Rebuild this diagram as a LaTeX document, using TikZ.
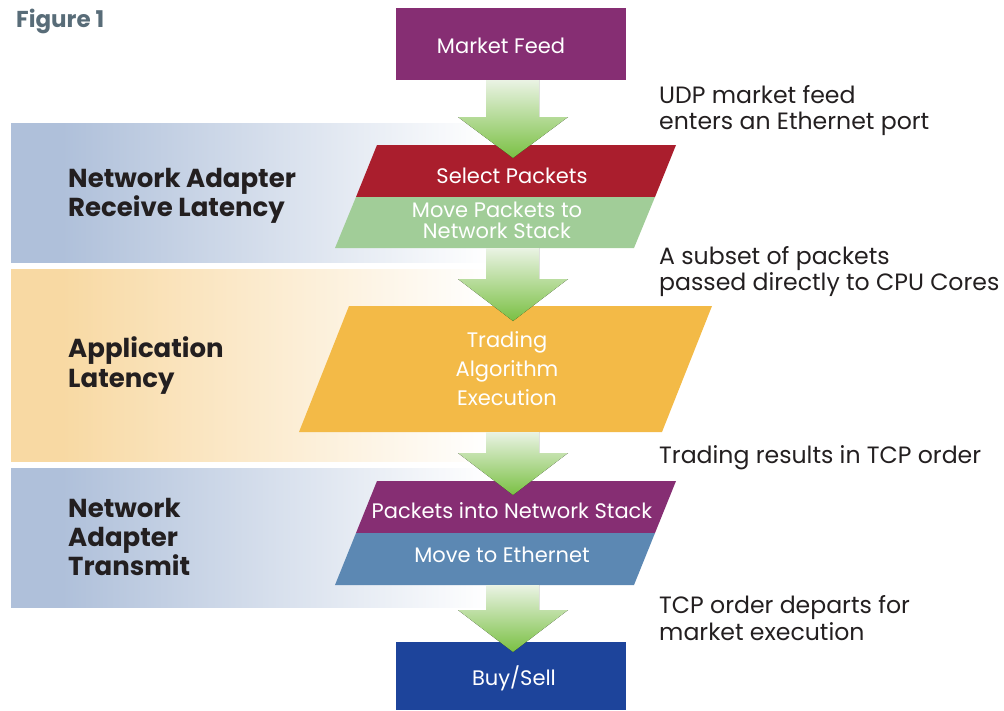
\documentclass[tikz,border=0pt]{standalone}
\usepackage{fontspec}
\setmainfont{Poppins}
\definecolor{feedpurple}{HTML}{862E73}
\definecolor{selred}{HTML}{AA1E2D}
\definecolor{movegreen}{HTML}{A1CD98}
\definecolor{algoorange}{HTML}{F3BA47}
\definecolor{ethblue}{HTML}{5C88B3}
\definecolor{buynavy}{HTML}{1D449B}
\definecolor{bandblue}{HTML}{AFC0DA}
\definecolor{bandorange}{HTML}{F8D9A3}
\definecolor{figgray}{HTML}{586C78}
\definecolor{txtdark}{HTML}{231F20}
\definecolor{arrtop}{HTML}{EAF3E4}
\definecolor{arrbot}{HTML}{7AC043}
\pgfdeclarehorizontalshading{bandblueshade}{100bp}{color(0bp)=(bandblue); color(30bp)=(bandblue); color(72bp)=(white); color(100bp)=(white)}
\pgfdeclarehorizontalshading{bandorangeshade}{100bp}{color(0bp)=(bandorange); color(30bp)=(bandorange); color(72bp)=(white); color(100bp)=(white)}
\newcommand\greenarrow[3]{%
  \fill[top color=arrtop, bottom color=arrbot] (486,#1) -- (539,#1) -- (539,#2) -- (568,#2) -- (513,#3) -- (458,#2) -- (486,#2) -- cycle;}
\begin{document}
\begin{tikzpicture}[x=1pt,y=-1pt,
  note/.style={anchor=base west, inner sep=0pt, text=txtdark, font=\fontsize{23.6}{26}\selectfont},
  stage/.style={anchor=base west, inner sep=0pt, text=txtdark, font=\fontsize{26}{29}\selectfont\bfseries},
  boxtxt/.style={anchor=base, inner sep=0pt, text=white, font=\fontsize{21}{24}\selectfont},
  boxfill/.style={draw=none, inner sep=0pt}]
\useasboundingbox (0,0) rectangle (1004,710);
% bands
\shade[shading=bandblueshade] (11,123) rectangle (520,262);
\shade[shading=bandorangeshade] (11,269) rectangle (520,461);
\shade[shading=bandblueshade] (11,468) rectangle (520,607);
% boxes
\node[boxfill, fill=feedpurple, minimum width=230pt, minimum height=72pt] (feed) at (511,44) {};
\node[boxfill, fill=buynavy, minimum width=230pt, minimum height=68pt] (buy) at (511,676) {};
\fill[selred] (377,145) -- (676,145) -- (655,197) -- (356,197) -- cycle;
\fill[movegreen] (356,197) -- (655,197) -- (634,248) -- (335,248) -- cycle;
\fill[algoorange] (349,306) -- (712,306) -- (662,432) -- (299,432) -- cycle;
\fill[feedpurple] (377,481) -- (676,481) -- (655,533) -- (356,533) -- cycle;
\fill[ethblue] (356,533) -- (655,533) -- (634,585) -- (335,585) -- cycle;
% arrows
\greenarrow{80}{117}{158}
\greenarrow{248}{279}{321}
\greenarrow{432}{453}{495}
\greenarrow{585}{610}{652}
% box texts
\node[boxtxt] (tfeed) at (501,53) {Market Feed};
\node[boxtxt] (tsel) at (512,183) {Select Packets};
\node[boxtxt] (tmove1) at (497,217) {Move Packets to};
\node[boxtxt] (tmove2) at (497,238) {Network Stack};
\node[boxtxt] (talg1) at (507,347) {Trading};
\node[boxtxt] (talg2) at (507,376) {Algorithm};
\node[boxtxt] (talg3) at (507,405) {Execution};
\node[boxtxt] (tpk) at (512,518) {Packets into Network Stack};
\node[boxtxt] (teth) at (502,562) {Move to Ethernet};
\node[boxtxt] (tbuy) at (514,685) {Buy/Sell};
% stage labels
\node[stage] (s1a) at (68,187) {Network Adapter};
\node[stage] (s1b) at (68,216) {Receive Latency};
\node[stage] (s2a) at (68,357) {Application};
\node[stage] (s2b) at (68,387) {Latency};
\node[stage] (s3a) at (68,517) {Network};
\node[stage] (s3b) at (68,546) {Adapter};
\node[stage] (s3c) at (68,575) {Transmit};
% notes
\node[note] (n1a) at (659,103) {UDP market feed};
\node[note] (n1b) at (659,129) {enters an Ethernet port};
\node[note] (n2a) at (659,264) {A subset of packets};
\node[note] (n2b) at (659,290) {passed directly to CPU Cores};
\node[note] (n3) at (659,463) {Trading results in TCP order};
\node[note] (n4a) at (659,613) {TCP order departs for};
\node[note] (n4b) at (659,640) {market execution};
% title
\node[anchor=base west, inner sep=0pt, text=figgray, font=\fontsize{23}{26}\selectfont\bfseries] (fig) at (16,27) {Figure 1};
\end{tikzpicture}
\end{document}
